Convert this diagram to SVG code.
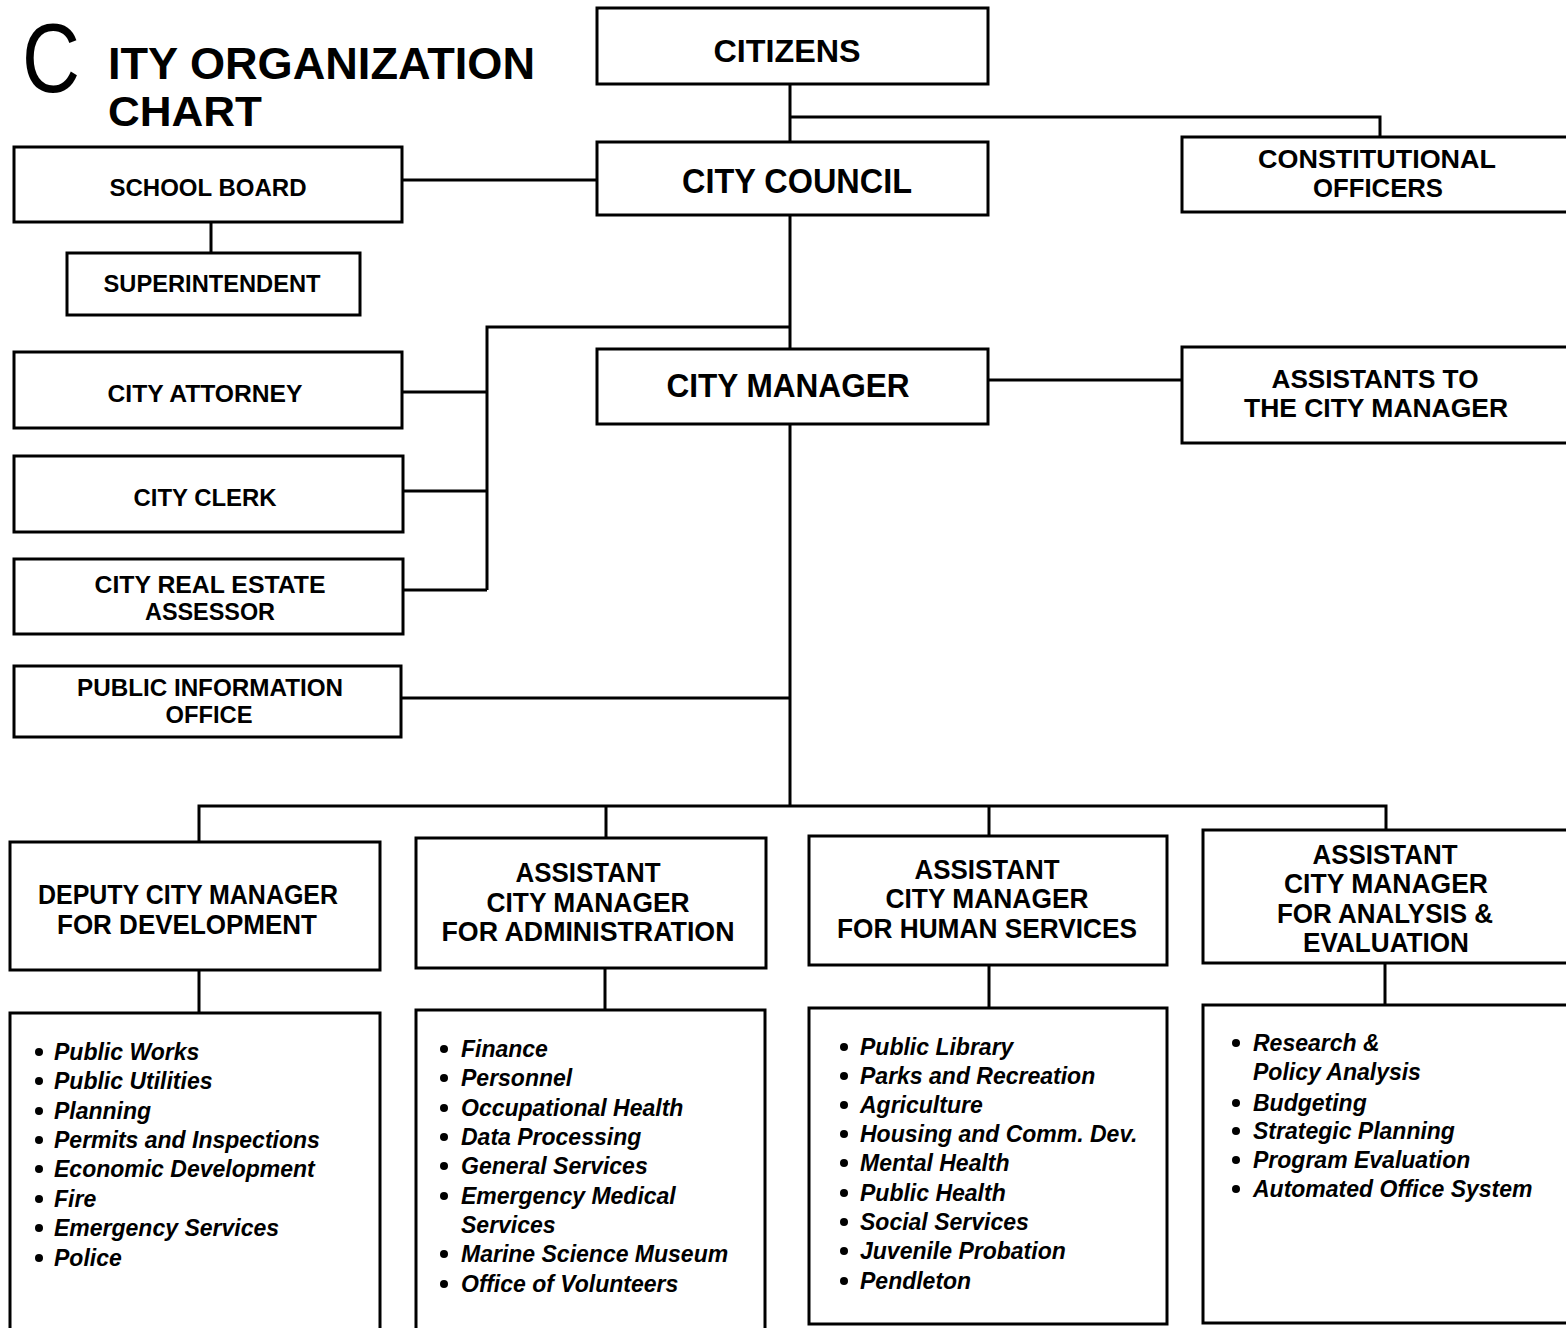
<svg xmlns="http://www.w3.org/2000/svg" width="1566" height="1328" viewBox="0 0 1566 1328">
<style>
.box{fill:#fff;stroke:#000;stroke-width:3}
.h{font-family:"Liberation Sans",Arial,sans-serif;font-weight:bold;text-anchor:middle;fill:#000}
.li{font-family:"Liberation Sans",Arial,sans-serif;font-weight:bold;font-style:italic;font-size:23px;fill:#000}
.conn{fill:none;stroke:#000;stroke-width:3}
.dot{fill:#000}
</style>
<rect width="1566" height="1328" fill="#fff"/>
<g id="title">
<text x="22" y="92" font-family="Liberation Sans,Arial,sans-serif" font-size="98" textLength="58" lengthAdjust="spacingAndGlyphs">C</text>
<text x="108" y="79" class="h" style="text-anchor:start" font-size="45" textLength="427" lengthAdjust="spacingAndGlyphs">ITY ORGANIZATION</text>
<text x="108" y="126" class="h" style="text-anchor:start" font-size="42" textLength="154" lengthAdjust="spacingAndGlyphs">CHART</text>
</g>
<g id="connectors">
<path class="conn" d="M790 84V142M790 117H1380V138"/>
<path class="conn" d="M402 180H597M211 222V253"/>
<path class="conn" d="M790 215V349M790 327H487V590M402 392H487M403 491H487M403 590H487"/>
<path class="conn" d="M988 380H1182"/>
<path class="conn" d="M790 424V806M401 698H790"/>
<path class="conn" d="M199 843V806H1386V830M606 806V838M989 806V836"/>
<path class="conn" d="M199 970V1013M605 968V1010M989 965V1008M1385 963V1005"/>
</g>
<g id="citizens"><rect class="box" x="597" y="8" width="391" height="76"/><text class="h" x="787" y="62" font-size="32" textLength="147" lengthAdjust="spacingAndGlyphs">CITIZENS</text></g>
<g id="city-council"><rect class="box" x="597" y="142" width="391" height="73"/><text class="h" x="797" y="193" font-size="35" textLength="230" lengthAdjust="spacingAndGlyphs">CITY COUNCIL</text></g>
<g id="constitutional-officers"><rect class="box" x="1182" y="137" width="400" height="75"/><text class="h" x="1377" y="168" font-size="26" textLength="238" lengthAdjust="spacingAndGlyphs">CONSTITUTIONAL</text><text class="h" x="1378" y="197" font-size="26" textLength="130" lengthAdjust="spacingAndGlyphs">OFFICERS</text></g>
<g id="school-board"><rect class="box" x="14" y="147" width="388" height="75"/><text class="h" x="208" y="196" font-size="23" textLength="197" lengthAdjust="spacingAndGlyphs">SCHOOL BOARD</text></g>
<g id="superintendent"><rect class="box" x="67" y="253" width="293" height="62"/><text class="h" x="212" y="292" font-size="23" textLength="217" lengthAdjust="spacingAndGlyphs">SUPERINTENDENT</text></g>
<g id="city-attorney"><rect class="box" x="14" y="352" width="388" height="76"/><text class="h" x="205" y="402" font-size="24" textLength="195" lengthAdjust="spacingAndGlyphs">CITY ATTORNEY</text></g>
<g id="city-clerk"><rect class="box" x="14" y="456" width="389" height="76"/><text class="h" x="205" y="506" font-size="24" textLength="143" lengthAdjust="spacingAndGlyphs">CITY CLERK</text></g>
<g id="city-real-estate-assessor"><rect class="box" x="14" y="559" width="389" height="75"/><text class="h" x="210" y="593" font-size="24" textLength="231" lengthAdjust="spacingAndGlyphs">CITY REAL ESTATE</text><text class="h" x="210" y="620" font-size="24" textLength="130" lengthAdjust="spacingAndGlyphs">ASSESSOR</text></g>
<g id="public-information-office"><rect class="box" x="14" y="666" width="387" height="71"/><text class="h" x="210" y="696" font-size="24" textLength="266" lengthAdjust="spacingAndGlyphs">PUBLIC INFORMATION</text><text class="h" x="209" y="723" font-size="24" textLength="87" lengthAdjust="spacingAndGlyphs">OFFICE</text></g>
<g id="city-manager"><rect class="box" x="597" y="349" width="391" height="75"/><text class="h" x="788" y="397" font-size="33" textLength="243" lengthAdjust="spacingAndGlyphs">CITY MANAGER</text></g>
<g id="assistants-to-city-manager"><rect class="box" x="1182" y="347" width="400" height="96"/><text class="h" x="1375" y="388" font-size="26" textLength="207" lengthAdjust="spacingAndGlyphs">ASSISTANTS TO</text><text class="h" x="1376" y="417" font-size="26" textLength="264" lengthAdjust="spacingAndGlyphs">THE CITY MANAGER</text></g>
<g id="deputy-development"><rect class="box" x="10" y="842" width="370" height="128"/><text class="h" x="188" y="904" font-size="27" textLength="300" lengthAdjust="spacingAndGlyphs">DEPUTY CITY MANAGER</text><text class="h" x="187" y="934" font-size="27" textLength="260" lengthAdjust="spacingAndGlyphs">FOR DEVELOPMENT</text></g>
<g id="assistant-administration"><rect class="box" x="416" y="838" width="350" height="130"/><text class="h" x="588" y="882" font-size="27" textLength="145" lengthAdjust="spacingAndGlyphs">ASSISTANT</text><text class="h" x="588" y="912" font-size="27" textLength="203" lengthAdjust="spacingAndGlyphs">CITY MANAGER</text><text class="h" x="588" y="941" font-size="27" textLength="293" lengthAdjust="spacingAndGlyphs">FOR ADMINISTRATION</text></g>
<g id="assistant-human-services"><rect class="box" x="809" y="836" width="358" height="129"/><text class="h" x="987" y="879" font-size="27" textLength="145" lengthAdjust="spacingAndGlyphs">ASSISTANT</text><text class="h" x="987" y="908" font-size="27" textLength="203" lengthAdjust="spacingAndGlyphs">CITY MANAGER</text><text class="h" x="987" y="938" font-size="27" textLength="300" lengthAdjust="spacingAndGlyphs">FOR HUMAN SERVICES</text></g>
<g id="assistant-analysis"><rect class="box" x="1203" y="830" width="380" height="133"/><text class="h" x="1385" y="864" font-size="27" textLength="145" lengthAdjust="spacingAndGlyphs">ASSISTANT</text><text class="h" x="1386" y="893" font-size="27" textLength="204" lengthAdjust="spacingAndGlyphs">CITY MANAGER</text><text class="h" x="1385" y="923" font-size="27" textLength="216" lengthAdjust="spacingAndGlyphs">FOR ANALYSIS &amp;</text><text class="h" x="1386" y="952" font-size="27" textLength="166" lengthAdjust="spacingAndGlyphs">EVALUATION</text></g>
<g id="development-list"><rect class="box" x="10" y="1013" width="370" height="320"/>
<g class="dot"><circle cx="39" cy="1052" r="4"/><circle cx="39" cy="1081" r="4"/><circle cx="39" cy="1111" r="4"/><circle cx="39" cy="1140" r="4"/><circle cx="39" cy="1169" r="4"/><circle cx="39" cy="1199" r="4"/><circle cx="39" cy="1228" r="4"/><circle cx="39" cy="1258" r="4"/></g>
<text class="li" x="54" y="1060">Public Works</text><text class="li" x="54" y="1089">Public Utilities</text><text class="li" x="54" y="1119">Planning</text><text class="li" x="54" y="1148">Permits and Inspections</text><text class="li" x="54" y="1177">Economic Development</text><text class="li" x="54" y="1207">Fire</text><text class="li" x="54" y="1236">Emergency Services</text><text class="li" x="54" y="1266">Police</text></g>
<g id="administration-list"><rect class="box" x="416" y="1010" width="349" height="322"/>
<g class="dot"><circle cx="444" cy="1049" r="4"/><circle cx="444" cy="1078" r="4"/><circle cx="444" cy="1108" r="4"/><circle cx="444" cy="1137" r="4"/><circle cx="444" cy="1166" r="4"/><circle cx="444" cy="1196" r="4"/><circle cx="444" cy="1254" r="4"/><circle cx="444" cy="1284" r="4"/></g>
<text class="li" x="461" y="1057">Finance</text><text class="li" x="461" y="1086">Personnel</text><text class="li" x="461" y="1116">Occupational Health</text><text class="li" x="461" y="1145">Data Processing</text><text class="li" x="461" y="1174">General Services</text><text class="li" x="461" y="1204">Emergency Medical</text><text class="li" x="461" y="1233">Services</text><text class="li" x="461" y="1262">Marine Science Museum</text><text class="li" x="461" y="1292">Office of Volunteers</text></g>
<g id="human-services-list"><rect class="box" x="809" y="1008" width="358" height="316"/>
<g class="dot"><circle cx="844" cy="1047" r="4"/><circle cx="844" cy="1076" r="4"/><circle cx="844" cy="1105" r="4"/><circle cx="844" cy="1134" r="4"/><circle cx="844" cy="1163" r="4"/><circle cx="844" cy="1193" r="4"/><circle cx="844" cy="1222" r="4"/><circle cx="844" cy="1251" r="4"/><circle cx="844" cy="1281" r="4"/></g>
<text class="li" x="860" y="1055">Public Library</text><text class="li" x="860" y="1084">Parks and Recreation</text><text class="li" x="860" y="1113">Agriculture</text><text class="li" x="860" y="1142">Housing and Comm. Dev.</text><text class="li" x="860" y="1171">Mental Health</text><text class="li" x="860" y="1201">Public Health</text><text class="li" x="860" y="1230">Social Services</text><text class="li" x="860" y="1259">Juvenile Probation</text><text class="li" x="860" y="1289">Pendleton</text></g>
<g id="analysis-list"><rect class="box" x="1203" y="1005" width="380" height="318"/>
<g class="dot"><circle cx="1236" cy="1043" r="4"/><circle cx="1236" cy="1103" r="4"/><circle cx="1236" cy="1131" r="4"/><circle cx="1236" cy="1160" r="4"/><circle cx="1236" cy="1189" r="4"/></g>
<text class="li" x="1253" y="1051">Research &amp;</text><text class="li" x="1253" y="1080">Policy Analysis</text><text class="li" x="1253" y="1111">Budgeting</text><text class="li" x="1253" y="1139">Strategic Planning</text><text class="li" x="1253" y="1168">Program Evaluation</text><text class="li" x="1253" y="1197">Automated Office System</text></g>
</svg>
